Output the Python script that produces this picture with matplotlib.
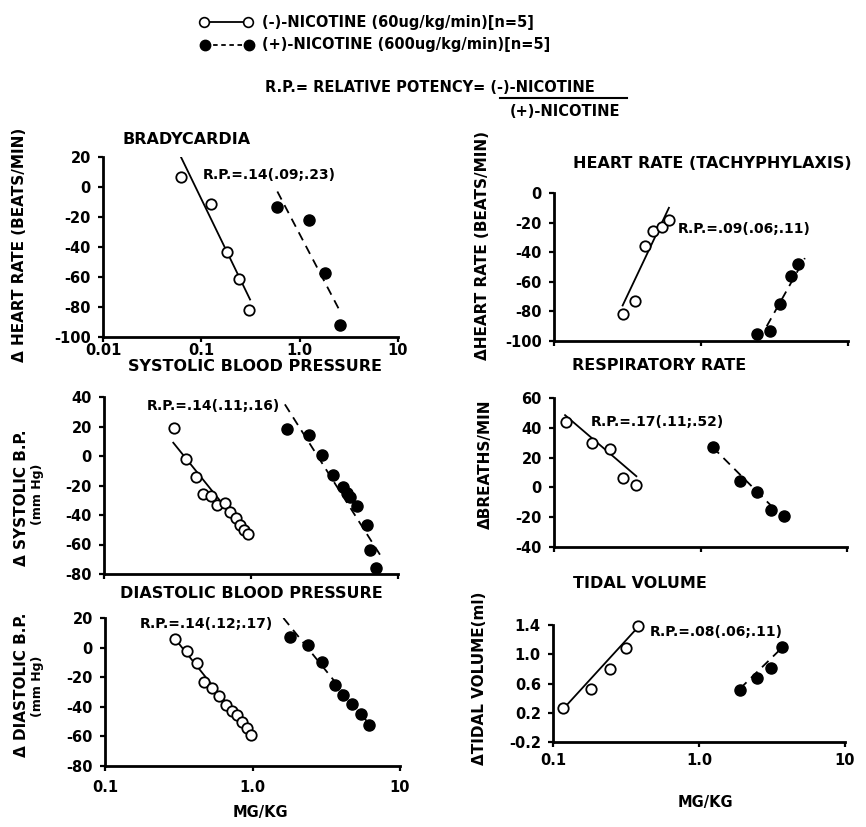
import numpy as np
import matplotlib
matplotlib.use("Agg")
import matplotlib.pyplot as plt
from matplotlib.lines import Line2D

plt.rcParams['font.family'] = ['DejaVu Sans']
plt.rcParams['font.weight'] = 'bold'
plt.rcParams['axes.unicode_minus'] = False

# ---- data (dose in mg/kg, response) ----
# bradycardia
brady_neg_x = [0.062, 0.124, 0.184, 0.24, 0.303]
brady_neg_y = [7, -11, -43, -61, -82]
brady_pos_x = [0.593, 1.25, 1.81, 2.58]
brady_pos_y = [-13, -22, -57, -92]
brady_fit_neg = ([0.061, 0.313], [21, -75])
brady_fit_pos = ([0.593, 2.58], [-3, -83])

# heart rate (tachyphylaxis)
tachy_neg_x = [0.293, 0.356, 0.416, 0.474, 0.541, 0.605]
tachy_neg_y = [-82, -73, -36, -26, -23, -18]
tachy_pos_x = [2.39, 2.94, 3.44, 4.07, 4.6]
tachy_pos_y = [-95, -93, -75, -56, -48]
tachy_fit_neg = ([0.293, 0.605], [-76, -10])
tachy_fit_pos = ([2.8, 5.09], [-90, -44])

# systolic blood pressure
sys_neg_x = [0.30, 0.361, 0.42, 0.474, 0.535, 0.585, 0.665, 0.72, 0.787, 0.842, 0.90, 0.96]
sys_neg_y = [19, -2, -14, -25.5, -27, -33.5, -32, -38, -42, -46.5, -50, -53]
sys_pos_x = [1.77, 2.49, 3.03, 3.63, 4.2, 4.48, 4.71, 5.28, 6.12, 6.45, 7.08]
sys_pos_y = [18, 14, 0.5, -13, -21, -25, -28, -34, -46.5, -64, -76]
sys_fit_neg = ([0.296, 0.985], [9, -55.5])
sys_fit_pos = ([1.7, 7.55], [35, -67])

# respiratory rate
resp_neg_x = [0.121, 0.181, 0.241, 0.297, 0.363]
resp_neg_y = [44, 30, 26, 6, 1.5]
resp_pos_x = [1.21, 1.86, 2.42, 3.01, 3.72]
resp_pos_y = [27, 4, -3, -15, -19]
resp_fit_neg = ([0.119, 0.365], [48.5, 7.5])
resp_fit_pos = ([1.21, 3.31], [27, -16])

# diastolic blood pressure
dia_neg_x = [0.298, 0.358, 0.419, 0.471, 0.534, 0.593, 0.658, 0.723, 0.789, 0.845, 0.913, 0.972]
dia_neg_y = [5.5, -2, -10.5, -23, -27, -33, -39, -43, -45.5, -50, -54.5, -59]
dia_pos_x = [1.80, 2.39, 2.97, 3.62, 4.13, 4.71, 5.42, 6.2]
dia_pos_y = [7.5, 1.5, -10, -25, -32, -38, -45, -52]
dia_fit_neg = ([0.29, 1.01], [7.5, -60])
dia_fit_pos = ([1.62, 6.1], [20, -51])

# tidal volume
tidal_neg_x = [0.118, 0.182, 0.245, 0.316, 0.383]
tidal_neg_y = [0.26, 0.53, 0.80, 1.09, 1.38]
tidal_pos_x = [1.91, 2.51, 3.1, 3.68]
tidal_pos_y = [0.51, 0.67, 0.81, 1.10]
tidal_fit_neg = ([0.116, 0.394], [0.24, 1.40])
tidal_fit_pos = ([1.91, 3.98], [0.53, 1.15])

W, H = 866, 827
fig = plt.figure(figsize=(W / 100, H / 100), dpi=100)


def fx(x):
    return x / W


def fy(y):
    return 1 - y / H


def make_axes(x0, y0, x1, y1):
    ax = fig.add_axes([fx(x0), fy(y1), (x1 - x0) / W, (y1 - y0) / H])
    ax.set_xscale('log')
    ax.spines['top'].set_visible(False)
    ax.spines['right'].set_visible(False)
    ax.spines['left'].set_linewidth(2)
    ax.spines['bottom'].set_linewidth(2)
    ax.tick_params(which='major', direction='out', length=3.8, width=1.6, labelsize=10.5)
    ax.tick_params(which='minor', length=0)
    ax.xaxis.set_minor_locator(matplotlib.ticker.NullLocator())
    ax.patch.set_alpha(0)
    return ax


def draw(ax, nx, ny, px, py, fit_n, fit_p):
    ax.plot(fit_n[0], fit_n[1], color='black', lw=1.3, zorder=2)
    ax.plot(fit_p[0], fit_p[1], color='black', lw=1.3, ls=(0, (5, 3.5)), zorder=2)
    ax.plot(nx, ny, ls='none', marker='o', ms=7.5, mfc='white', mec='black',
            mew=1.3, zorder=3, clip_on=False)
    ax.plot(px, py, ls='none', marker='o', ms=8, mfc='black', mec='black',
            zorder=3, clip_on=False)


def set_y(ax, lo, hi, ticks, labels):
    ax.set_ylim(lo, hi)
    ax.set_yticks(ticks)
    ax.set_yticklabels(labels)
    ax.tick_params(axis='y', pad=5)


def set_x(ax, lo, ticks, labels, pad):
    ax.set_xlim(lo, 10)
    ax.set_xticks(ticks)
    ax.set_xticklabels(labels)
    ax.tick_params(axis='x', pad=pad)


# ---- bradycardia ----
ax1 = make_axes(103, 157, 398, 337)
draw(ax1, brady_neg_x, brady_neg_y, brady_pos_x, brady_pos_y, brady_fit_neg, brady_fit_pos)
t = [20, 0, -20, -40, -60, -80, -100]
set_y(ax1, -100, 20, t, [str(v) for v in t])
set_x(ax1, 0.01, [0.01, 0.1, 1, 10], ['0.01', '0.1', '1.0', '10'], 0.3)
ax1.text(0.104, 8, 'R.P.=.14(.09;.23)', fontsize=10, va='center')

# ---- tachyphylaxis ----
ax2 = make_axes(554, 193, 848, 341)
draw(ax2, tachy_neg_x, tachy_neg_y, tachy_pos_x, tachy_pos_y, tachy_fit_neg, tachy_fit_pos)
t = [0, -20, -40, -60, -80, -100]
set_y(ax2, -100, 0, t, [str(v) for v in t])
set_x(ax2, 0.1, [0.1, 1, 10], ['', '', ''], 1)
ax2.text(0.70, -24, 'R.P.=.09(.06;.11)', fontsize=10, va='center')

# ---- systolic ----
ax3 = make_axes(104, 397, 398, 574)
draw(ax3, sys_neg_x, sys_neg_y, sys_pos_x, sys_pos_y, sys_fit_neg, sys_fit_pos)
t = [40, 20, 0, -20, -40, -60, -80]
set_y(ax3, -80, 40, t, [str(v) for v in t])
set_x(ax3, 0.1, [0.1, 1, 10], ['', '', ''], 1)
ax3.text(0.196, 33.6, 'R.P.=.14(.11;.16)', fontsize=10, va='center')

# ---- respiratory ----
ax4 = make_axes(554, 398, 847, 547)
draw(ax4, resp_neg_x, resp_neg_y, resp_pos_x, resp_pos_y, resp_fit_neg, resp_fit_pos)
t = [60, 40, 20, 0, -20, -40]
set_y(ax4, -40, 60, t, [str(v) for v in t])
set_x(ax4, 0.1, [0.1, 1, 10], ['', '', ''], 1)
ax4.text(0.179, 44.2, 'R.P.=.17(.11;.52)', fontsize=10, va='center')

# ---- diastolic ----
ax5 = make_axes(105, 618, 400, 766)
draw(ax5, dia_neg_x, dia_neg_y, dia_pos_x, dia_pos_y, dia_fit_neg, dia_fit_pos)
t = [20, 0, -20, -40, -60, -80]
set_y(ax5, -80, 20, t, [str(v) for v in t])
set_x(ax5, 0.1, [0.1, 1, 10], ['0.1', '1.0', '10'], 6.5)
ax5.text(0.173, 16, 'R.P.=.14(.12;.17)', fontsize=10, va='center')

# ---- tidal volume ----
ax6 = make_axes(553, 625, 845, 742)
draw(ax6, tidal_neg_x, tidal_neg_y, tidal_pos_x, tidal_pos_y, tidal_fit_neg, tidal_fit_pos)
t = [1.4, 1.0, 0.6, 0.2, -0.2]
set_y(ax6, -0.2, 1.4, t, ['%.1f' % v for v in t])
set_x(ax6, 0.1, [0.1, 1, 10], ['0.1', '1.0', '10'], 4)
ax6.text(0.461, 1.31, 'R.P.=.08(.06;.11)', fontsize=10, va='center')

# ---- panel titles ----
titles = [(123, 140, 'BRADYCARDIA'), (573, 163, 'HEART RATE (TACHYPHYLAXIS)'),
          (128, 367, 'SYSTOLIC BLOOD PRESSURE'), (572, 365, 'RESPIRATORY RATE'),
          (120, 593, 'DIASTOLIC BLOOD PRESSURE'), (573, 583, 'TIDAL VOLUME')]
for x, y, s in titles:
    fig.text(fx(x), fy(y), s, fontsize=11.5, ha='left', va='center')

# ---- y labels ----
ylabs = [(20, 245, '\u0394 HEART RATE (BEATS/MIN)', 11),
         (482, 245, '\u0394HEART RATE (BEATS/MIN)', 11),
         (22, 498, '\u0394 SYSTOLIC B.P.', 11),
         (38, 494, '(mm Hg)', 9),
         (485, 464, '\u0394BREATHS/MIN', 11),
         (22, 685, '\u0394 DIASTOLIC B.P.', 11),
         (38, 686, '(mm Hg)', 9),
         (480, 678, '\u0394TIDAL VOLUME(ml)', 11)]
for x, y, s, fs in ylabs:
    fig.text(fx(x), fy(y), s, fontsize=fs, rotation=90, ha='center', va='center')

# ---- x labels ----
fig.text(fx(260), fy(813), 'MG/KG', fontsize=10.5, ha='center', va='center')
fig.text(fx(705), fy(802), 'MG/KG', fontsize=10.5, ha='center', va='center')

# ---- header legend ----
fig.add_artist(Line2D([fx(204), fx(248)], [fy(22), fy(22)], color='black', lw=1.3,
                      marker='o', ms=7, mfc='white', mec='black', mew=1.2))
fig.add_artist(Line2D([fx(205), fx(249)], [fy(45), fy(45)], color='black', lw=1.3,
                      ls=(0, (2.5, 2)), marker='o', ms=7.5, mfc='black', mec='black'))
fig.text(fx(262), fy(22), '(-)-NICOTINE (60ug/kg/min)[n=5]', fontsize=10.5, va='center')
fig.text(fx(262), fy(45), '(+)-NICOTINE (600ug/kg/min)[n=5]', fontsize=10.5, va='center')

fig.text(fx(265), fy(87), 'R.P.= RELATIVE POTENCY= (-)-NICOTINE', fontsize=10.5, va='center')
fig.add_artist(Line2D([fx(500), fx(627)], [fy(98), fy(98)], color='black', lw=1.5))
fig.text(fx(510), fy(112), '(+)-NICOTINE', fontsize=10.5, va='center')

fig.savefig('out.png', dpi=100)
